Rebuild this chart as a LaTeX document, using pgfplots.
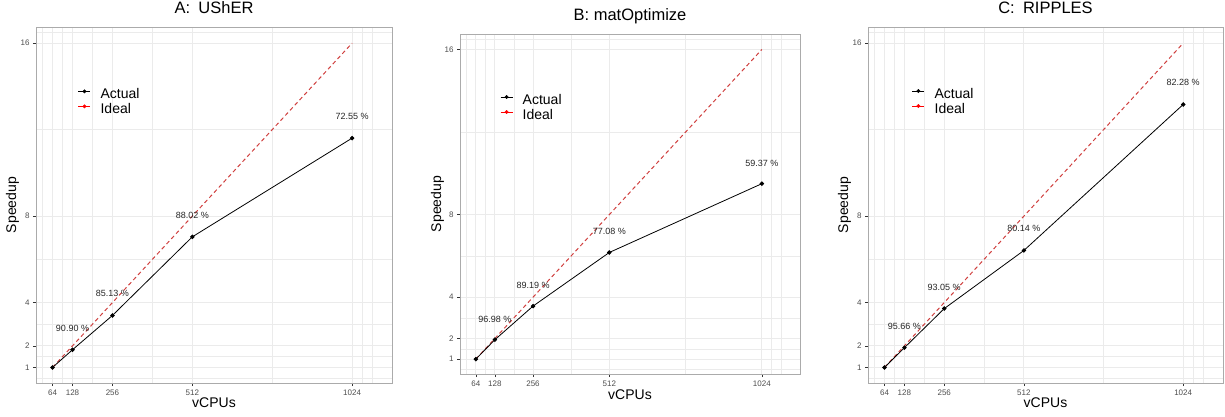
\documentclass[border=0pt]{standalone}
\usepackage{pgfplots}
\pgfplotsset{compat=1.18}
\usepackage{pgfplotstable}
\usepackage{fontspec}
\setmainfont{Liberation Sans}
\definecolor{gridc}{HTML}{EBEBEB}
\definecolor{borderc}{HTML}{ABABAB}
\definecolor{tickc}{HTML}{333333}
\definecolor{ticklab}{HTML}{4D4D4D}
\definecolor{idealred}{HTML}{D0403F}

% x = vCPUs, s = speedup (efficiency x vCPUs/64), l = label
\pgfplotstableread{
x s l
64 1 {}
128 1.818 {90.90 \%}
256 3.405 {85.13 \%}
512 7.042 {88.02 \%}
1024 11.608 {72.55 \%}
}\dataA
\pgfplotstableread{
x s l
64 1 {}
128 1.940 {96.98 \%}
256 3.568 {89.19 \%}
512 6.166 {77.08 \%}
1024 9.499 {59.37 \%}
}\dataB
\pgfplotstableread{
x s l
64 1 {}
128 1.913 {95.66 \%}
256 3.722 {93.05 \%}
512 6.411 {80.14 \%}
1024 13.165 {82.28 \%}
}\dataC
\pgfplotstableread{
x s
64 1
1024 16
}\ideal

\pgfplotsset{
  speedstyle/.style={
    scale only axis,
    xmin=11, xmax=1152, ymin=0.28, ymax=16.75,
    xtick={64,128,256,512,1024},
    xticklabels={64,128,256,512,1024},
    ytick={1,2,4,8,16},
    yticklabels={1,2,4,8,16},
    minor xtick={32,96,192,384,768,1056,1088},
    minor ytick={0.5,1.5,3,6,12,16.5},
    grid=both,
    major grid style={gridc, line width=0.9pt},
    minor grid style={gridc, line width=0.45pt},
    axis line style={borderc, line width=0.8pt},
    tick align=outside,
    major tick length=3pt,
    minor tick length=0pt,
    xtick pos=bottom, ytick pos=left,
    tick style={tickc, line width=0.6pt},
    tick label style={font=\fontsize{8}{9}\selectfont, text=ticklab},
    xlabel={vCPUs}, ylabel={Speedup},
    label style={font=\fontsize{14}{16}\selectfont},
    title style={font=\fontsize{16.5}{18}\selectfont, at={(0.5,1)}, anchor=base, yshift=8pt},
    ylabel style={at={(axis description cs:-0.066,0.5)}, anchor=center},
    legend cell align=left,
    legend style={draw=none, fill=none, inner sep=0pt, outer sep=0pt,
      font=\fontsize{14}{16}\selectfont, anchor=north west,
      nodes={inner sep=1pt, text height=10pt, text depth=3pt}},
    legend image code/.code={
      \draw[##1, solid, line width=0.8pt] (0pt,4pt) -- (12pt,4pt);
      \fill[##1] (6pt,4pt) circle (1.7pt);
      \path (21pt,4pt);},
  },
  actual/.style={black, line width=0.8pt, mark=*, mark size=1.8pt},
  idealline/.style={idealred, line width=1pt, dash pattern=on 4pt off 3pt},
  labs/.style={only marks, mark=none, nodes near coords, point meta=explicit symbolic,
    nodes near coords style={anchor=center, font=\fontsize{9}{10}\selectfont, text=black!85}},
}

\begin{document}
\begin{tikzpicture}
\path[use as bounding box] (0,0) rectangle (1225pt,416pt);

% Panel A
\begin{axis}[speedstyle, at={(36pt,33pt)}, anchor=south west,
  width=356pt, height=356pt,
  title={A:\hspace{0.5em}UShER},
  xlabel style={at={(axis description cs:0.5,-0.070)}, anchor=base},
  legend style={at={(axis description cs:0.118,0.829)}}]
\addlegendimage{black}
\addlegendentry{Actual}
\addlegendimage{red}
\addlegendentry{Ideal}
\addplot[idealline, forget plot] table[x=x, y=s] {\ideal};
\addplot[actual, forget plot] table[x=x, y=s] {\dataA};
\addplot[labs, forget plot] table[x=x, y expr=\thisrow{s}+1, meta=l] {\dataA};
\end{axis}

% Panel B
\begin{axis}[speedstyle, at={(460pt,42pt)}, anchor=south west,
  width=340pt, height=340pt,
  title={B: matOptimize},
  xlabel style={at={(axis description cs:0.5,-0.076)}, anchor=base},
  ylabel style={at={(axis description cs:-0.066,0.5)}},
  legend style={at={(axis description cs:0.118,0.825)}}]
\addlegendimage{black}
\addlegendentry{Actual}
\addlegendimage{red}
\addlegendentry{Ideal}
\addplot[idealline, forget plot] table[x=x, y=s] {\ideal};
\addplot[actual, forget plot] table[x=x, y=s] {\dataB};
\addplot[labs, forget plot] table[x=x, y expr=\thisrow{s}+1, meta=l] {\dataB};
\end{axis}

% Panel C
\begin{axis}[speedstyle, at={(868pt,33pt)}, anchor=south west,
  width=355pt, height=356pt,
  title={C:\hspace{0.5em}RIPPLES},
  xlabel style={at={(axis description cs:0.5,-0.070)}, anchor=base},
  legend style={at={(axis description cs:0.124,0.830)}}]
\addlegendimage{black}
\addlegendentry{Actual}
\addlegendimage{red}
\addlegendentry{Ideal}
\addplot[idealline, forget plot] table[x=x, y=s] {\ideal};
\addplot[actual, forget plot] table[x=x, y=s] {\dataC};
\addplot[labs, forget plot] table[x=x, y expr=\thisrow{s}+1, meta=l] {\dataC};
\end{axis}
\end{tikzpicture}
\end{document}
